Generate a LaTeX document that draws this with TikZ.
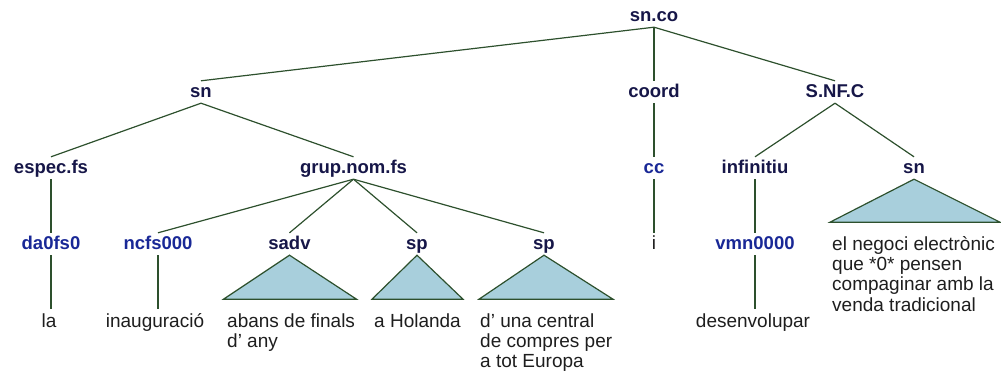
\documentclass[tikz,border=0pt]{standalone}
\usepackage{fontspec}
\setmainfont{Liberation Sans}
\definecolor{labcol}{RGB}{22,22,72}
\definecolor{tagcol}{RGB}{25,40,150}
\definecolor{wordcol}{RGB}{30,30,30}
\definecolor{edgecol}{RGB}{45,80,45}
\definecolor{trifill}{RGB}{168,207,220}
\begin{document}
\begin{tikzpicture}[x=1pt,y=-1pt,
  lab/.style={font=\fontsize{18.5}{20}\selectfont\bfseries, text=labcol, inner sep=0pt, text height=16pt, text depth=6pt, anchor=base},
  tag/.style={lab, text=tagcol},
  word/.style={font=\fontsize{19}{20.3}\selectfont, text=wordcol, inner sep=0pt, text height=18pt, text depth=5pt, anchor=base},
  para/.style={font=\fontsize{19}{20.3}\selectfont, text=wordcol, inner sep=0pt, align=left, anchor=north west},
  edge/.style={draw=edgecol, line width=1.2pt},
  tri/.style={draw=edgecol, fill=trifill, line width=1.2pt, line join=miter}]
\useasboundingbox (0,0) rectangle (1001,378);
% labels
\node[lab] (root) at (654,21) {sn.co};
\node[lab] (sn1) at (201,97) {sn};
\node[lab] (coord) at (654,97) {coord};
\node[lab] (snfc) at (835,97) {S.NF.C};
\node[lab] (espec) at (51,173) {espec.fs};
\node[lab] (grup) at (353.5,173) {grup.nom.fs};
\node[tag] (cc) at (654,173) {cc};
\node[lab] (inf) at (755,173) {infinitiu};
\node[lab] (sn2) at (914,173) {sn};
\node[tag] (da) at (51,249) {da0fs0};
\node[tag] (ncfs) at (158,249) {ncfs000};
\node[lab] (sadv) at (289.5,249) {sadv};
\node[lab] (sp1) at (417,249) {sp};
\node[lab] (sp2) at (544,249) {sp};
\node[word, text height=16pt] (i) at (654,249) {i};
\node[tag] (vmn) at (755,249) {vmn0000};
% leaf words
\node[word] (la) at (49,327) {la};
\node[word] (inaug) at (155,327) {inauguració};
\node[word] (desen) at (753,327) {desenvolupar};
% edges
\draw[edge] (root.south) -- (sn1.north);
\draw[edge] (root.south) -- (coord.north);
\draw[edge] (root.south) -- (snfc.north);
\draw[edge] (sn1.south) -- (espec.north);
\draw[edge] (sn1.south) -- (grup.north);
\draw[edge] (coord.south) -- (cc.north);
\draw[edge] (snfc.south) -- (inf.north);
\draw[edge] (snfc.south) -- (sn2.north);
\draw[edge] (espec.south) -- (da.north);
\draw[edge] (grup.south) -- (ncfs.north);
\draw[edge] (grup.south) -- (sadv.north);
\draw[edge] (grup.south) -- (sp1.north);
\draw[edge] (grup.south) -- (sp2.north);
\draw[edge] (cc.south) -- (i.north);
\draw[edge] (inf.south) -- (vmn.north);
\draw[edge] (da.south) -- (da.south |- la.north);
\draw[edge] (ncfs.south) -- (ncfs.south |- inaug.north);
\draw[edge] (vmn.south) -- (vmn.south |- desen.north);
% triangles
\draw[tri] (sadv.south) -- ++(-66,44) -- ++(133,0) -- cycle;
\draw[tri] (sp1.south) -- ++(-45,44) -- ++(91,0) -- cycle;
\draw[tri] (sp2.south) -- ++(-65,44) -- ++(134,0) -- cycle;
\draw[tri] (sn2.south) -- ++(-84,43) -- ++(170,0) -- cycle;
% phrase texts
\node[para] (t1) at (227,309) {\rule{0pt}{18pt}abans de finals\\d’ any};
\node[para] (t2) at (374,309) {\rule{0pt}{18pt}a Holanda};
\node[para] (t3) at (480,309) {\rule{0pt}{18pt}d’ una central\\de compres per\\a tot Europa};
\node[para] (t4) at (832,232) {\rule{0pt}{18pt}el negoci electrònic\\que *0* pensen\\compaginar amb la\\venda tradicional};
\end{tikzpicture}
\end{document}
